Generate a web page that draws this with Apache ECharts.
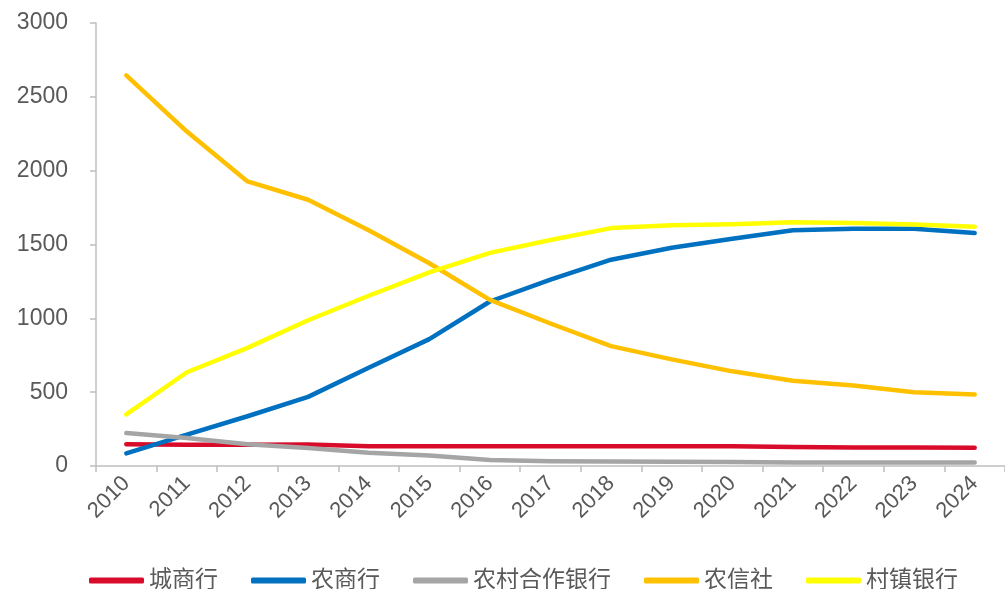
<!DOCTYPE html>
<html>
<head>
<meta charset="utf-8">
<script src="https://cdn.jsdelivr.net/npm/echarts@6/dist/echarts.min.js"></script>
<style>html,body{margin:0;padding:0;background:#fff;}#chart{width:1005px;height:589px;}</style>
</head>
<body>
<div id="chart"></div>
<script>
const years = ['2010','2011','2012','2013','2014','2015','2016','2017','2018','2019','2020','2021','2022','2023','2024'];
const cityBank = [147,144,144,145,134,133,134,134,134,134,133,128,125,125,124];
const ruralCommercial = [85,212,337,468,665,859,1114,1262,1397,1478,1539,1596,1606,1607,1578];
const ruralCooperative = [223,190,147,122,89,71,40,33,30,28,27,23,23,23,23];
const ruralCredit = [2646,2265,1927,1803,1596,1373,1125,965,812,722,641,577,545,499,484];
const villageBank = [349,635,800,987,1153,1311,1443,1530,1611,1630,1637,1651,1645,1636,1621];
const seriesNames = ['城商行','农商行','农村合作银行','农信社','村镇银行'];
const colors = ['#D80C2A','#0070C0','#A5A5A5','#FFC000','#FFFF00'];
const allData = [cityBank, ruralCommercial, ruralCooperative, ruralCredit, villageBank];

const chart = echarts.init(document.getElementById('chart'));
const font = 'Arial, "Liberation Sans", "Noto Sans CJK SC", sans-serif';
chart.setOption({
  animation: false,
  color: colors,
  grid: {left: 96, right: 0, top: 23, bottom: 123},
  legend: {
    top: 564, left: 84,
    icon: 'roundRect', itemWidth: 55, itemHeight: 6, itemGap: 33,
    textStyle: {fontSize: 23, color: '#595959', fontFamily: font},
    data: seriesNames
  },
  xAxis: {
    type: 'category', data: years, boundaryGap: true,
    axisLine: {lineStyle: {color: '#BFBFBF', width: 1.5}},
    axisTick: {show: true, length: 6, lineStyle: {color: '#BFBFBF', width: 1.5}},
    axisLabel: {rotate: 45, fontSize: 22, color: '#595959', fontFamily: font, margin: 14, interval: 0}
  },
  yAxis: {
    type: 'value', min: 0, max: 3000, interval: 500,
    axisLine: {show: true, lineStyle: {color: '#BFBFBF', width: 1.5}},
    axisTick: {show: true, length: 6, lineStyle: {color: '#BFBFBF', width: 1.5}},
    splitLine: {show: false},
    axisLabel: {fontSize: 23, color: '#595959', fontFamily: font, margin: 28, formatter: v => String(v)}
  },
  series: seriesNames.map((n, i) => ({
    name: n, type: 'line', data: allData[i], symbol: 'none',
    lineStyle: {width: 4.5, color: colors[i], cap: 'round', join: 'round'},
    itemStyle: {color: colors[i]}
  }))
});
</script>
</body>
</html>
